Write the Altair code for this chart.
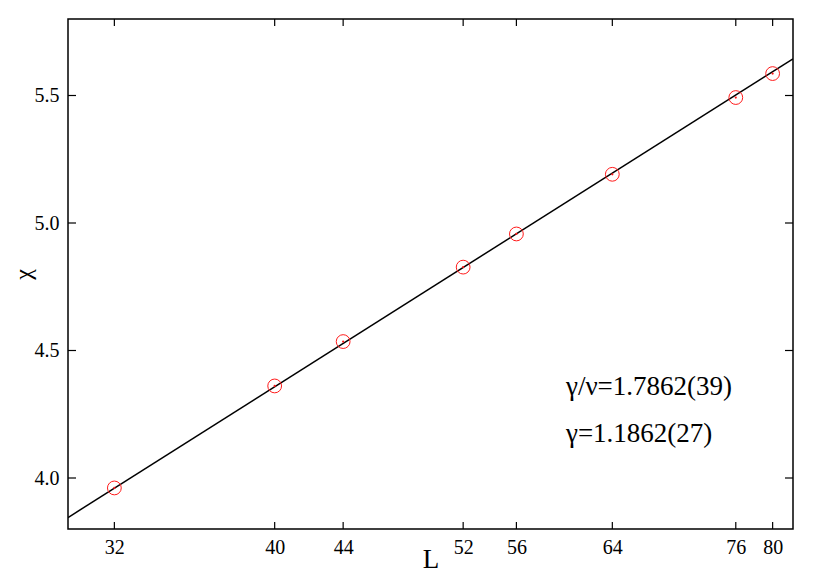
import altair as alt
import pandas as pd

# data
L_vals = [32, 40, 44, 52, 56, 64, 76, 80]
lnchi_vals = [3.961, 4.361, 4.535, 4.827, 4.957, 5.191, 5.492, 5.586]
fit_L = [30, 82.3]
fit_y = [3.845, 5.644]
x_ticks = [32, 40, 44, 52, 56, 64, 76, 80]
y_ticks = [4.0, 4.5, 5.0, 5.5]
notes = ["γ/ν=1.7862(39)", "γ=1.1862(27)"]
note_L = [60.0, 60.0]
note_y = [4.355, 4.172]

W, H = 725, 510
FONT = "Liberation Serif"

pts = pd.DataFrame({"L": L_vals, "y": lnchi_vals})
fit = pd.DataFrame({"L": fit_L, "y": fit_y})
xt = pd.DataFrame({"L": x_ticks})
yt = pd.DataFrame({"y": y_ticks})
nt = pd.DataFrame({"L": note_L, "y": note_y, "t": notes})

xscale = alt.Scale(type="log", domain=[30, 82.3], nice=False)
yscale = alt.Scale(domain=[3.8, 5.8], nice=False, zero=False)

xenc = alt.X("L:Q", scale=xscale, title="L",
             axis=alt.Axis(values=x_ticks, format="d", grid=False, ticks=False,
                           labelFont=FONT, labelFontSize=20, labelColor="black",
                           labelPadding=8, domain=False,
                           titleFont=FONT, titleFontSize=27, titleFontWeight="normal",
                           titleColor="black", titleY=38, titleBaseline="alphabetic"))
yenc = alt.Y("y:Q", scale=yscale, title="χ",
             axis=alt.Axis(values=y_ticks, format=".1f", grid=False, ticks=False,
                           labelFont=FONT, labelFontSize=20, labelColor="black",
                           labelPadding=9, domain=False,
                           titleFont=FONT, titleFontSize=24, titleFontWeight="normal",
                           titleColor="black", titleAngle=270, titleX=-38, titleY=255,
                           titleBaseline="alphabetic", titleAlign="center"))

line = alt.Chart(fit).mark_line(color="black", strokeWidth=1.5, clip=True).encode(x=xenc, y=yenc)

circles = alt.Chart(pts).mark_point(shape="circle", size=190, filled=False,
                                    color="#ff1a1a", strokeWidth=1, opacity=1).encode(
    x=alt.X("L:Q", scale=xscale), y=alt.Y("y:Q", scale=yscale))
dots = alt.Chart(pts).mark_point(shape="circle", size=5, filled=True,
                                 color="#ff1a1a", opacity=1).encode(
    x=alt.X("L:Q", scale=xscale), y=alt.Y("y:Q", scale=yscale))

tk_bottom = alt.Chart(xt).mark_rule(color="black", strokeWidth=1.2).encode(
    x=alt.X("L:Q", scale=xscale), y=alt.value(H), y2=alt.value(H - 7))
tk_top = alt.Chart(xt).mark_rule(color="black", strokeWidth=1.2).encode(
    x=alt.X("L:Q", scale=xscale), y=alt.value(0), y2=alt.value(7))
tk_left = alt.Chart(yt).mark_rule(color="black", strokeWidth=1.2).encode(
    y=alt.Y("y:Q", scale=yscale), x=alt.value(0), x2=alt.value(8))
tk_right = alt.Chart(yt).mark_rule(color="black", strokeWidth=1.2).encode(
    y=alt.Y("y:Q", scale=yscale), x=alt.value(W), x2=alt.value(W - 8))

text = alt.Chart(nt).mark_text(font=FONT, fontSize=27, align="left", baseline="middle",
                               color="black").encode(
    x=alt.X("L:Q", scale=xscale), y=alt.Y("y:Q", scale=yscale), text="t:N")

chart = alt.layer(line, circles, dots, tk_bottom, tk_top, tk_left, tk_right, text).properties(
    width=W, height=H,
    background="white",
    autosize=alt.AutoSizeParams(type="none"),
    padding={"left": 60, "top": 11, "right": 29, "bottom": 44},
).configure_view(stroke="black", strokeWidth=1.5)

chart.save("out.html", embed_options={"renderer": "svg", "actions": False})
